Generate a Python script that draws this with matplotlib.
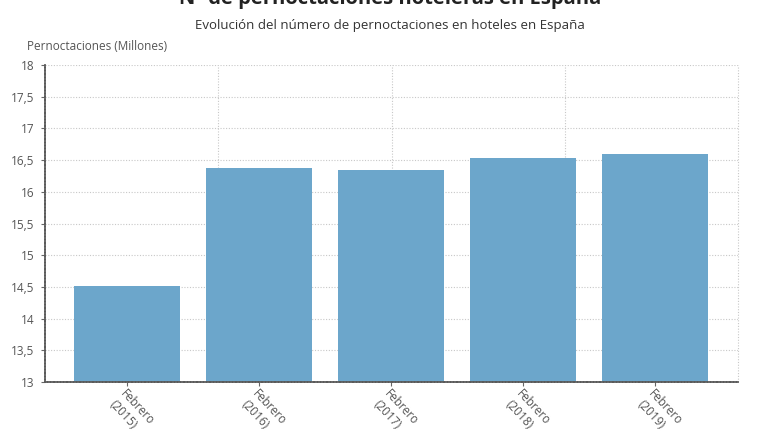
import matplotlib
matplotlib.use("Agg")
import matplotlib.pyplot as plt

plt.rcParams['font.family'] = ['Open Sans', 'DejaVu Sans']

# datos
categorias = ["Febrero\n(2015)", "Febrero\n(2016)", "Febrero\n(2017)",
              "Febrero\n(2018)", "Febrero\n(2019)"]
pernoctaciones = [14.52, 16.38, 16.35, 16.53, 16.60]
yticks = [13, 13.5, 14, 14.5, 15, 15.5, 16, 16.5, 17, 17.5, 18]
ytick_labels = ["13", "13,5", "14", "14,5", "15", "15,5", "16", "16,5",
                "17", "17,5", "18"]

fig = plt.figure(figsize=(7.8, 4.4), dpi=100)
ax = fig.add_axes([0.058, 0.132, 0.888, 0.720])

x = range(len(categorias))
ax.bar(x, pernoctaciones, width=0.8, color='#6ca6cb', zorder=2)

ax.set_ylim(13, 18)
ax.set_xlim(-0.62, 4.63)
ax.set_yticks(yticks)
ax.set_yticklabels(ytick_labels)
ax.set_xticks(list(x))
ax.set_xticklabels(categorias, rotation=-47, ha='left', va='top',
                   rotation_mode='anchor')

ax.tick_params(axis='y', length=3, width=0.8, colors='#666666',
               labelcolor='#555555', labelsize=8.5, pad=5)
ax.tick_params(axis='x', length=3, width=0.8, colors='#666666',
               labelcolor='#555555', labelsize=8.5, pad=1)

# rejilla punteada
ax.yaxis.grid(True, linestyle=(0, (1, 1.5)), color='#c8c8c8', linewidth=0.8, zorder=0)
for fx in [0.25, 0.5, 0.75, 1.0]:
    ax.plot([fx, fx], [0, 1], transform=ax.transAxes, linestyle=(0, (1, 1.5)),
            color='#c8c8c8', linewidth=0.8, zorder=0, clip_on=False)

for s in ['top', 'right']:
    ax.spines[s].set_visible(False)
for s in ['left', 'bottom']:
    ax.spines[s].set_linestyle((0, (1, 0.8)))
    ax.spines[s].set_color('#5a5a5a')
    ax.spines[s].set_linewidth(1.3)
    ax.spines[s].set_zorder(3)

fig.text(0.5, 0.991, "Nº de pernoctaciones hoteleras en España", ha='center',
         va='baseline', fontsize=14.5, fontweight='bold', color='#222222')
fig.text(0.5, 1 - 25 / 440, "Evolución del número de pernoctaciones en hoteles en España",
         ha='center', va='center', fontsize=9.5, color='#333333')
fig.text(27 / 780, 1 - 47 / 440, "Pernoctaciones (Millones)", ha='left',
         va='center', fontsize=8.5, color='#555555')

fig.savefig("out.png", dpi=100)
